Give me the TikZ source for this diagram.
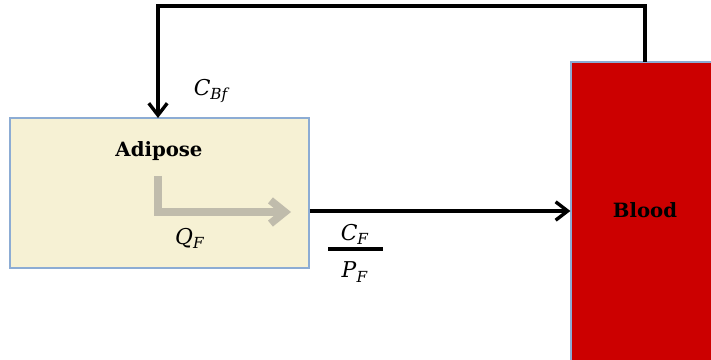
\documentclass[tikz,border=0pt]{standalone}
\usepackage{tikz}
\usetikzlibrary{arrows.meta,positioning,calc}
\usepackage{fontspec}
\setmainfont{DejaVu Serif}
\definecolor{fatbeige}{RGB}{246,241,212}
\definecolor{edgeblue}{RGB}{140,172,212}
\definecolor{bloodred}{RGB}{204,0,0}
\definecolor{flowgray}{RGB}{192,188,172}

\begin{document}
\begin{tikzpicture}[
  x=0.025cm, y=-0.025cm,
  every node/.style={font=\fontsize{15.5}{18}\selectfont},
  organ/.style={draw=edgeblue, line width=0.8pt, inner sep=0pt},
  tag/.style={font=\fontsize{14}{17}\selectfont\bfseries},
  flow/.style={line width=2.4pt, -{Straight Barb[length=3mm,width=4.6mm]}},
  uptake/.style={draw=flowgray, line width=5.5pt, -{Straight Barb[length=3.6mm,width=5.8mm]}},
  bar/.style={line width=2.4pt}
]
\clip (0,0) rectangle (711,360);
\useasboundingbox (0,0) rectangle (711,360);

\node[organ, fill=fatbeige, minimum width=7.475cm, minimum height=3.75cm] (adipose) at (159.5,193) {};
\node[organ, fill=bloodred, minimum width=3.975cm, minimum height=7.95cm] (blood) at (650.5,221) {};
\node[tag] (adtxt) at (159,151) {Adipose};
\node[tag] (bltxt) at (645,210) {Blood};

\coordinate (outlet) at (645,62);
\coordinate (inlet) at (158,118);
\coordinate (midline) at (0,211);
\coordinate (qstart) at (158,176);
\coordinate (qend) at (291,212);

\draw[flow] (outlet) -- ++(0,-56) -| (inlet);
\draw[flow] (adipose.east |- midline) -- (blood.west |- midline);
\draw[uptake] (qstart) |- (qend);

\node (cbf) at (212,91) {\textit{C}\textsubscript{\textit{Bf}}};
\node (qf) at (190,238) {\textit{Q}\textsubscript{\textit{F}}};
\node (cf) at (355,234) {\textit{C}\textsubscript{\textit{F}}};
\node (pf) at (355,272) {\textit{P}\textsubscript{\textit{F}}};
\draw[bar] (328,249) -- (383,249);
\end{tikzpicture}
\end{document}
